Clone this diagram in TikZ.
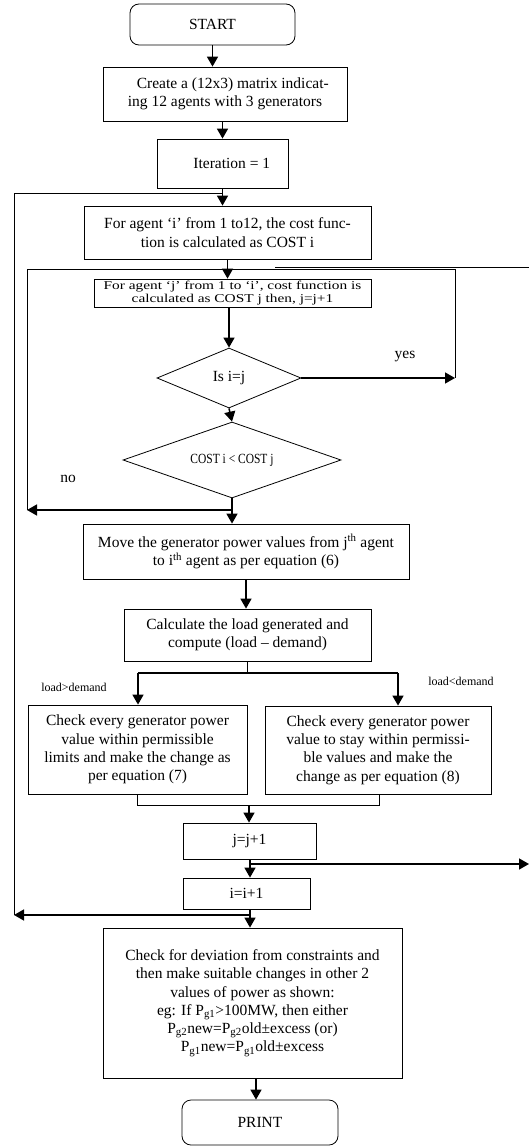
\documentclass[tikz,border=0pt]{standalone}
\usepackage{fontspec}
\setmainfont{Liberation Serif}
\newfontfamily\widefont[FakeStretch=1.28]{Liberation Serif}
\newfontfamily\narrowfont[FakeStretch=0.82]{Liberation Serif}
\usetikzlibrary{shapes.geometric,arrows.meta}

\begin{document}
\begin{tikzpicture}[x=1pt, y=-1pt, font=\fontsize{15.5}{18.3}\selectfont,
    terminal/.style={draw, line width=0.8pt, rounded corners=9pt, align=center},
    procbox/.style={draw, line width=0.8pt, align=center, inner sep=2pt},
    decision/.style={draw, line width=0.8pt, diamond, aspect=2.4, inner sep=0pt},
    flow/.style={line width=1.5pt, -{Triangle[width=11pt,length=10pt]}},
    loopline/.style={line width=0.8pt},
    smalltext/.style={font=\fontsize{12}{14}\selectfont}]
    \useasboundingbox (0,0) rectangle (529,1148);

    % draw boxes
    \node[terminal, minimum width=165pt, minimum height=41pt] (start) at (212.5,24.5) {START};
    \node[procbox, minimum width=244pt, minimum height=54pt] (create) at (225,94)
      {\hspace*{1em}Create a (12x3) matrix indicat-\\ing 12 agents with 3 generators};
    \node[procbox, minimum width=131pt, minimum height=49pt] (iter) at (222.5,163.5) {\hspace*{1.2em}Iteration = 1};
    \node[procbox, minimum width=287pt, minimum height=53pt] (costi) at (227.5,232.5)
      {For agent ‘i’ from 1 to12, the cost func-\\tion is calculated as COST i};
    \node[procbox, minimum width=277pt, minimum height=28pt, inner sep=1pt,
      font={\widefont\fontsize{12}{12.5}\selectfont}] (costj) at (232.5,293)
      {For agent ‘j’ from 1 to ‘i’, cost function is\\calculated as COST j then, j=j+1};
    \node[decision, minimum width=144pt, minimum height=60pt] (isij) at (229,378) {Is i=j};
    \node[decision, minimum width=218pt, minimum height=76pt,
      font={\narrowfont\fontsize{14}{16}\selectfont}] (costcmp) at (232,460) {COST i < COST j};
    \node[procbox, minimum width=326pt, minimum height=55pt] (move) at (246,551.5)
      {Move the generator power values from j\textsuperscript{th} agent\\to i\textsuperscript{th} agent as per equation (6)};
    \node[procbox, minimum width=247pt, minimum height=52pt] (calc) at (247.5,635)
      {Calculate the load generated and\\compute (load – demand)};
    \node[procbox, minimum width=219pt, minimum height=89pt] (chkhi) at (137.5,749.5)
      {Check every generator power\\value within permissible\\limits and make the change as\\per equation (7)};
    \node[procbox, minimum width=226pt, minimum height=88pt] (chklo) at (378,750)
      {Check every generator power\\value to stay within permissi-\\ble values and make the\\change as per equation (8)};
    \node[procbox, minimum width=133pt, minimum height=36pt] (jinc) at (249.5,841) {j=j+1};
    \node[procbox, minimum width=127pt, minimum height=31pt] (iinc) at (246.5,893.5) {i=i+1};
    \node[procbox, minimum width=299pt, minimum height=150pt] (adjust) at (252.5,1003)
      {Check for deviation from constraints and\\then make suitable changes in other 2\\values of power as shown:\\
       eg: If P\textsubscript{g1}>100MW, then either\\P\textsubscript{g2}new=P\textsubscript{g2}old±excess (or)\\
       P\textsubscript{g1}new=P\textsubscript{g1}old±excess};
    \node[terminal, minimum width=156pt, minimum height=45pt] (print) at (260,1122.5) {PRINT};

    % loop corners
    \coordinate (outtop) at (14,193);
    \coordinate (outbot) at (14,915);
    \coordinate (intl) at (27,269);
    \coordinate (intr) at (455,269);
    \coordinate (inbl) at (27,510);
    \coordinate (yesend) at (455,378);
    \coordinate (jret) at (275,267);
    \coordinate (jretr) at (529,267);
    \coordinate (split) at (247,673);
    \coordinate (splitl) at (138,673);
    \coordinate (splitr) at (398,673);
    \coordinate (merge) at (249,805);
    \coordinate (merger) at (379,805);
    \coordinate (jbr) at (250,864);
    \coordinate (jbrend) at (529,864);
    \coordinate (ibr) at (250,915);

    % draw main arrows
    \draw[flow] (start.south) -- (start.south |- create.north);
    \draw[flow] (iter.north |- create.south) -- (iter.north);
    \draw[flow] (iter.south) -- (iter.south |- costi.north);
    \draw[flow] (costi.south) -- (costi.south |- costj.north);
    \draw[flow] (isij.north |- costj.south) -- (isij.north);
    \draw[flow] (isij.south) -- (costcmp.north);
    \draw[flow] (costcmp.south) -- (costcmp.south |- move.north);
    \draw[flow] (move.south) -- (move.south |- calc.north);
    \draw[flow] (jinc.south -| jbr) -- (iinc.north -| jbr);
    \draw[flow] (iinc.south -| ibr) -- (adjust.north -| ibr);
    \draw[flow] (adjust.south -| print.north) ++(-4,0) -- ([xshift=-4pt]print.north);

    % draw loop lines
    \draw[loopline] (iter.south |- outtop) -- (outtop) -- (outbot);
    \draw[flow] (ibr) -- (outbot);
    \draw[loopline] (inbl) -- (intl) -- (intr) -- (yesend);
    \draw[flow] (isij.east) -- (yesend);
    \draw[flow] (costcmp.south |- inbl) -- (inbl);
    \draw[loopline] (jret) -- (jretr);
    \draw[flow] (jbr) -- (jbrend);

    % draw branch and merge
    \draw[loopline] (calc.south -| split) -- (split);
    \draw[line width=1.2pt] (splitl) -- (splitr);
    \draw[flow] (splitl) -- (splitl |- chkhi.north);
    \draw[flow] (splitr) -- (splitr |- chklo.north);
    \draw[loopline] (chkhi.south) |- (merger) -- (merger |- chklo.south);
    \draw[flow] (merge) -- (merge |- jinc.north);

    % draw labels
    \node (yeslbl) at (405,357) {yes};
    \node (nolbl) at (68,479) {no};
    \node[smalltext] (gtlbl) at (74,687) {load>demand};
    \node[smalltext] (ltlbl) at (461,681) {load<demand};
\end{tikzpicture}
\end{document}
